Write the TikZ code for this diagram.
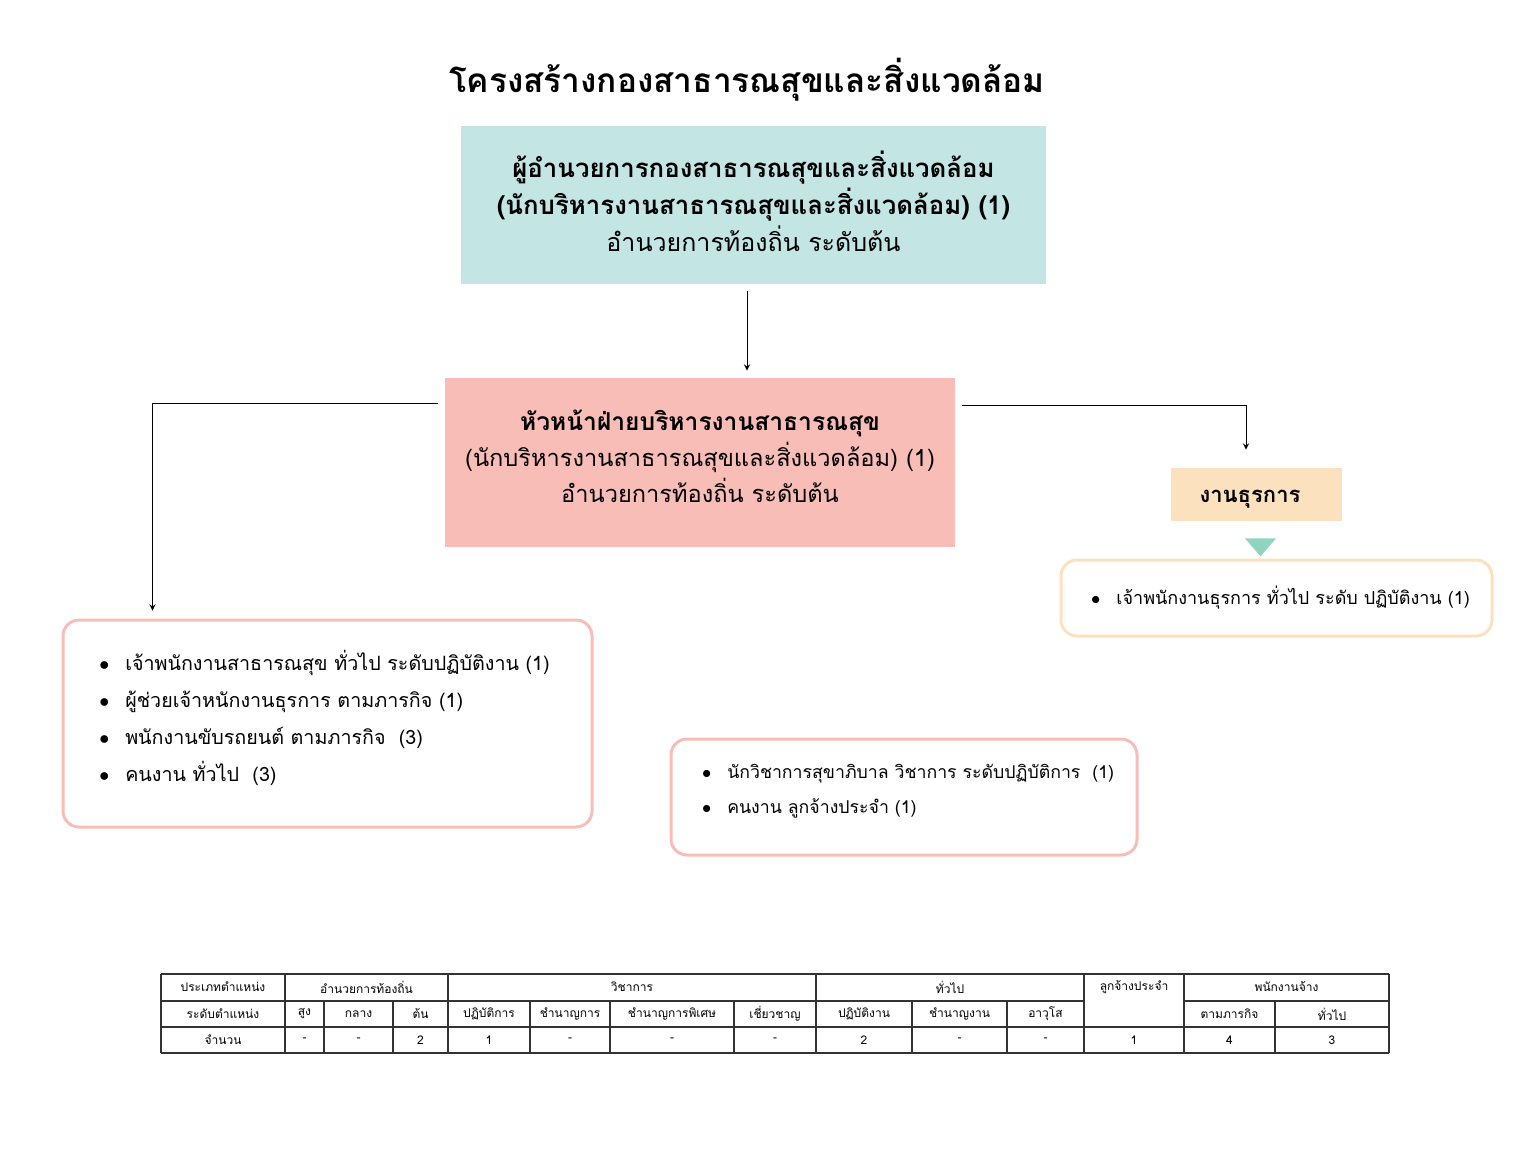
\documentclass[tikz,border=0pt]{standalone}
\usepackage{fontspec}
\setmainfont[Script=Thai]{Loma}
\usetikzlibrary{calc}
\definecolor{headteal}{HTML}{C3E5E4}
\definecolor{headpink}{HTML}{F9BDB7}
\definecolor{workpeach}{HTML}{FCE1BF}
\definecolor{arrowmint}{HTML}{8FD4BF}
\definecolor{tablegray}{HTML}{333333}
\tikzset{
  box/.style={inner sep=0pt, align=center},
  listbox/.style={draw, line width=1.5pt, rounded corners=8pt, fill=white, align=left,
    inner sep=0pt, font=\fontsize{9.85}{18.5}\selectfont},
  tabline/.style={draw=tablegray, line width=0.8pt},
  cell/.style={font=\fontsize{6}{7}\selectfont, inner sep=0pt},
}
\newcommand{\dip}[1]{\rule[-#1]{0pt}{0pt}}
\newcommand{\li}{$\bullet$\hspace{8pt}}
\begin{document}
\begin{tikzpicture}[x=0.5pt,y=-0.5pt,>=stealth]
\useasboundingbox (0,0) rectangle (1536,1152);
% title
\node[font=\bfseries\fontsize{16.7}{20}\selectfont] (title) at (747,80) {โครงสร้างกองสาธารณสุขและสิ่งแวดล้อม};
% boxes
\node[box, fill=headteal, minimum width=292.5pt, minimum height=79pt, font=\fontsize{12.5}{18.5}\selectfont] (director) at (753.5,205)
  {{\fontsize{12.9}{18.5}\selectfont\bfseries ผู้อำนวยการกองสาธารณสุขและสิ่งแวดล้อม}\\
   {\fontsize{12.9}{18.5}\selectfont\bfseries (นักบริหารงานสาธารณสุขและสิ่งแวดล้อม) (1)}\\
   อำนวยการท้องถิ่น ระดับต้น\dip{4pt}};
\node[box, fill=headpink, minimum width=255pt, minimum height=84.5pt, font=\fontsize{11.8}{18}\selectfont] (head) at (700,462.5)
  {{\fontsize{12.3}{18}\selectfont\bfseries หัวหน้าฝ่ายบริหารงานสาธารณสุข}\\
   (นักบริหารงานสาธารณสุขและสิ่งแวดล้อม) (1)\\
   อำนวยการท้องถิ่น ระดับต้น\dip{6pt}};
\node[box, fill=workpeach, minimum width=85.5pt, minimum height=26.5pt, font=\bfseries\fontsize{11}{13}\selectfont] (admin) at (1256.5,494.5)
  {\raisebox{-3.75pt}[0pt][0pt]{งานธุรการ\hspace{6.5pt}}};
\node[listbox, draw=workpeach, minimum width=215.5pt, minimum height=38pt, font=\fontsize{9}{17.5}\selectfont] (adminstaff) at (1276.5,598)
  {\hspace*{4pt}\li เจ้าพนักงานธุรการ ทั่วไป ระดับ ปฏิบัติงาน (1)};
\node[listbox, draw=headpink, minimum width=264.5pt, minimum height=103.5pt] (healthstaff) at (327.5,723.5)
  {\li เจ้าพนักงานสาธารณสุข ทั่วไป ระดับปฏิบัติงาน (1)\rule{3pt}{0pt}\\
   \li ผู้ช่วยเจ้าหนักงานธุรการ ตามภารกิจ (1)\\
   \li พนักงานขับรถยนต์ ตามภารกิจ~ (3)\\
   \li คนงาน ทั่วไป~ (3)\dip{7.5pt}};
\node[listbox, draw=headpink, minimum width=233pt, minimum height=58pt, font=\fontsize{8.85}{17.5}\selectfont] (sanistaff) at (904,797)
  {\hspace*{4pt}\li นักวิชาการสุขาภิบาล วิชาการ ระดับปฏิบัติการ~ (1)\\
   \hspace*{4pt}\li คนงาน ลูกจ้างประจำ (1)\dip{8.3pt}};
% connectors
\draw[->, shorten <=3.5pt, shorten >=3.5pt] ([xshift=-3.25pt]director.south) -- ([xshift=-3.25pt]director.south |- head.north);
\draw[->] ([xshift=-3.5pt,yshift=-13pt]head.north west) -| ([xshift=45.5pt,yshift=4pt]healthstaff.north west);
\draw[->] ([xshift=3.5pt,yshift=-14pt]head.north east) -| ([xshift=-5.25pt,yshift=9pt]admin.north);
\fill[arrowmint] ($(admin.south)+(-11.5,17)$) -- ++(31,0) -- ++(-15.5,18) -- cycle;
% table
\foreach \cx in {161,285,448,816,1084,1184,1389} \draw[tabline] (\cx,974) -- (\cx,1053);
\foreach \cx in {324,393,530,610,734,912,1007,1275} \draw[tabline] (\cx,1001) -- (\cx,1053);
\draw[tabline] (161,974) -- (1389,974);
\draw[tabline] (161,1001) -- (1084,1001) (1184,1001) -- (1389,1001);
\draw[tabline] (161,1027) -- (1389,1027);
\draw[tabline] (161,1053) -- (1389,1053);
\foreach \cx/\txt in {223/ประเภทตำแหน่ง, 366.5/อำนวยการท้องถิ่น, 632/วิชาการ, 950/ทั่วไป, 1134/ลูกจ้างประจำ, 1286.5/พนักงานจ้าง}
  \node[cell] (kind-\cx) at (\cx,987) {\txt};
\foreach \cx/\txt in {223/ระดับตำแหน่ง, 304.5/สูง, 358.5/กลาง, 420.5/ต้น, 489/ปฏิบัติการ, 570/ชำนาญการ, 672/ชำนาญการพิเศษ, 775/เชี่ยวชาญ, 864/ปฏิบัติงาน, 959.5/ชำนาญงาน, 1045.5/อาวุโส, 1229.5/ตามภารกิจ, 1332/ทั่วไป}
  \node[cell] (level-\cx) at (\cx,1014) {\txt};
\foreach \cx/\txt in {223/จำนวน, 304.5/-, 358.5/-, 420.5/2, 489/1, 570/-, 672/-, 775/-, 864/2, 959.5/-, 1045.5/-, 1134/1, 1229.5/4, 1332/3}
  \node[cell] (count-\cx) at (\cx,1040) {\txt};
\end{tikzpicture}
\end{document}
